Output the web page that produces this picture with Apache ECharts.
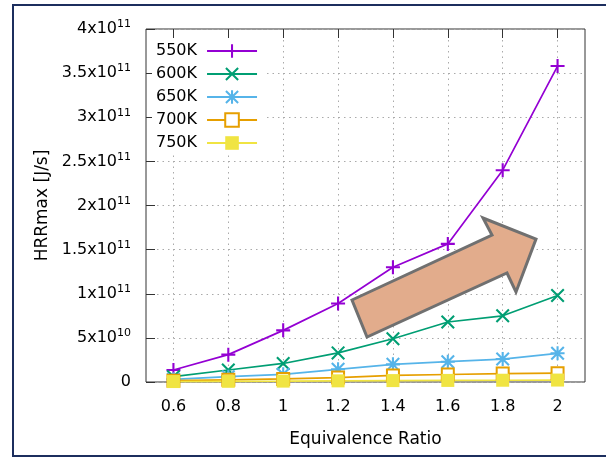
<!DOCTYPE html>
<html>
<head>
<meta charset="utf-8">
<script src="https://cdn.jsdelivr.net/npm/echarts@6/dist/echarts.min.js"></script>
<style>
html,body{margin:0;padding:0;background:#fff;}
#main{width:606px;height:458px;}
</style>
</head>
<body>
<div id="main"></div>
<script>
// ---- data ----
const categories = ['0.6', '0.8', '1', '1.2', '1.4', '1.6', '1.8', '2'];
const seriesNames = ['550K', '600K', '650K', '700K', '750K'];
const hrr550 = [1.36e10, 3.1e10, 5.85e10, 8.9e10, 1.30e11, 1.565e11, 2.40e11, 3.58e11];
const hrr600 = [6.0e9, 1.36e10, 2.1e10, 3.3e10, 4.9e10, 6.8e10, 7.5e10, 9.8e10];
const hrr650 = [3.0e9, 6.0e9, 8.7e9, 1.44e10, 2.0e10, 2.3e10, 2.6e10, 3.25e10];
const hrr700 = [1.5e9, 2.5e9, 3.5e9, 5.0e9, 7.5e9, 8.5e9, 9.5e9, 1.0e10];
const hrr750 = [5e8, 8e8, 1.0e9, 1.3e9, 1.6e9, 1.8e9, 2.0e9, 2.2e9];
const yTickLabels = ['0', '5x10^10', '1x10^11', '1.5x10^11', '2x10^11', '2.5x10^11', '3x10^11', '3.5x10^11', '4x10^11'];

const colors = ['#9400d3', '#009e73', '#56b4e9', '#e69f00', '#f0e442'];
const FONT = 'DejaVu Sans';

const plusPath = 'path://M-1.5,-10 L1.5,-10 L1.5,-1.5 L10,-1.5 L10,1.5 L1.5,1.5 L1.5,10 L-1.5,10 L-1.5,1.5 L-10,1.5 L-10,-1.5 L-1.5,-1.5 Z';
const xPath = 'path://M-7.9,-10 L10,7.9 L7.9,10 L-10,-7.9 Z M7.9,-10 L10,-7.9 L-7.9,10 L-10,7.9 Z';
const starPath = 'path://M-1.5,-10 L1.5,-10 L1.5,-1.5 L10,-1.5 L10,1.5 L1.5,1.5 L1.5,10 L-1.5,10 L-1.5,1.5 L-10,1.5 L-10,-1.5 L-1.5,-1.5 Z M-7.9,-10 L10,7.9 L7.9,10 L-10,-7.9 Z M7.9,-10 L10,-7.9 L-7.9,10 L-10,7.9 Z';

const values = [hrr550, hrr600, hrr650, hrr700, hrr750];
const symbols = [plusPath, xPath, starPath, 'emptyRect', 'rect'];
const symbolSizes = [14, 14, 14, 12, 13];

const chart = echarts.init(document.getElementById('main'), null, {renderer: 'canvas'});

const series = values.map((v, i) => ({
  name: seriesNames[i],
  type: 'line',
  data: v,
  xAxisIndex: 0,
  yAxisIndex: 0,
  symbol: symbols[i],
  symbolSize: symbolSizes[i],
  showAllSymbol: true,
  lineStyle: {color: colors[i], width: 1.7},
  itemStyle: {color: colors[i], borderColor: colors[i], borderWidth: i === 3 ? 2 : 0},
  emphasis: {disabled: true},
  animation: false
}));

function yLabel(val, idx) {
  const s = yTickLabels[idx] !== undefined ? yTickLabels[idx] : String(val);
  const p = s.split('^');
  if (p.length === 1) return '{b|' + p[0] + '}';
  return '{b|' + p[0] + '}{sup|' + p[1] + '}';
}

const option = {
  backgroundColor: '#fff',
  animation: false,
  color: colors,
  grid: {left: 146, right: 21, top: 29, bottom: 76, show: true, borderColor: '#333', borderWidth: 1, backgroundColor: 'transparent'},
  legend: {
    show: true,
    orient: 'vertical',
    left: 152,
    top: 40,
    align: 'right',
    itemWidth: 50,
    itemHeight: 17,
    itemGap: 7,
    padding: [3, 6, 3, 4],
    backgroundColor: '#fff',
    textStyle: {fontFamily: FONT, fontSize: 16, color: '#000', padding: [0, 5, 0, 0]},
    data: seriesNames
  },
  xAxis: [{
    type: 'category',
    data: categories,
    boundaryGap: true,
    name: 'Equivalence Ratio',
    nameLocation: 'middle',
    nameGap: 49,
    nameTextStyle: {fontFamily: FONT, fontSize: 17, color: '#000'},
    axisLine: {show: false},
    axisTick: {show: true, inside: true, alignWithLabel: true, length: 9, lineStyle: {color: '#333'}},
    axisLabel: {fontFamily: FONT, fontSize: 16, color: '#000', margin: 17},
    splitLine: {show: true, alignWithLabel: true, lineStyle: {color: '#aaa', type: [1.5, 4], width: 1}}
  }, {
    type: 'category',
    data: categories,
    position: 'top',
    boundaryGap: true,
    axisLine: {show: false},
    axisTick: {show: true, inside: true, alignWithLabel: true, length: 9, lineStyle: {color: '#333'}},
    axisLabel: {show: false},
    splitLine: {show: false}
  }],
  yAxis: [{
    type: 'value',
    min: 0,
    max: 4e11,
    interval: 5e10,
    name: 'HRRmax [J/s]',
    nameLocation: 'middle',
    nameRotate: 90,
    nameGap: 35,
    nameTextStyle: {fontFamily: FONT, fontSize: 17, color: '#000'},
    axisLine: {show: false},
    axisTick: {show: true, inside: true, length: 9, lineStyle: {color: '#333'}},
    axisLabel: {
      margin: 15,
      formatter: yLabel,
      rich: {
        b: {fontFamily: FONT, fontSize: 16, color: '#000', lineHeight: 20},
        sup: {fontFamily: FONT, fontSize: 11, color: '#000', lineHeight: 20, verticalAlign: 'top', padding: [0, 0, 8, 0]}
      }
    },
    splitLine: {show: true, lineStyle: {color: '#aaa', type: [1.5, 4], width: 1}}
  }],
  series: series,
  graphic: [
    {
      type: 'polygon',
      z: 100,
      shape: {points: [[352, 300], [492, 235], [483, 218], [536, 239], [516, 292], [507, 273], [367, 337]]},
      style: {fill: '#e2ac8c', stroke: '#707070', lineWidth: 3, lineJoin: 'miter'}
    },
    {
      type: 'rect',
      z: 100,
      shape: {x: 13, y: 5, width: 600, height: 451},
      style: {fill: 'none', stroke: '#1c2e5e', lineWidth: 2}
    }
  ]
};
chart.setOption(option);
</script>
</body>
</html>
